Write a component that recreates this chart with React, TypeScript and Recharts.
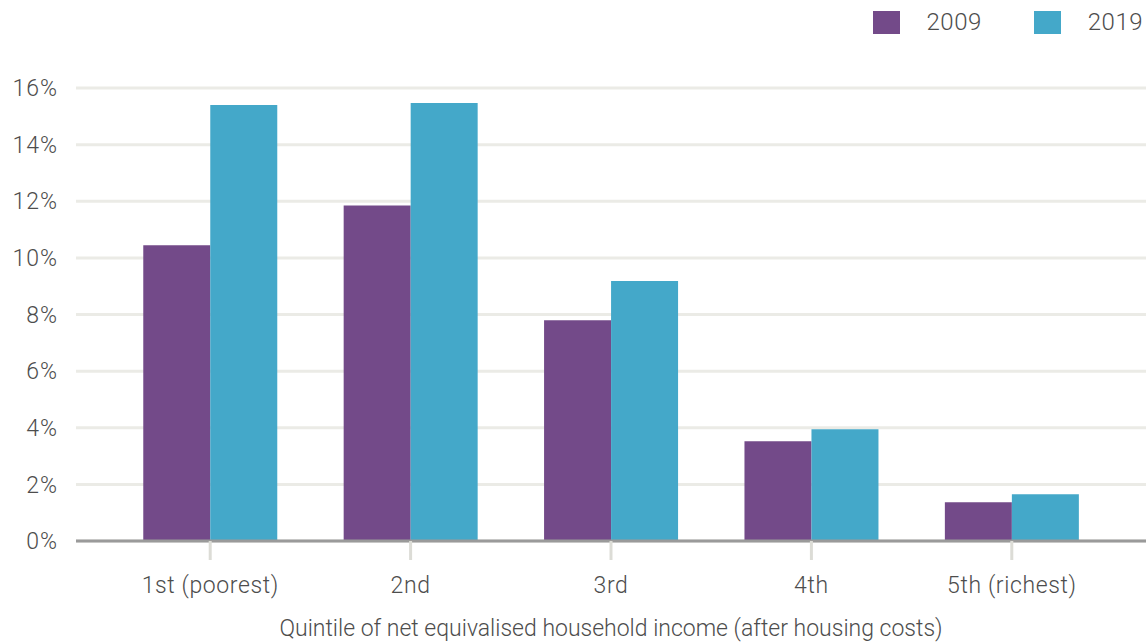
import { BarChart, Bar, XAxis, YAxis, CartesianGrid } from 'recharts'

const quintiles = ['1st (poorest)', '2nd', '3rd', '4th', '5th (richest)']
const share2009 = [10.45, 11.85, 7.8, 3.52, 1.37]
const share2019 = [15.4, 15.47, 9.18, 3.95, 1.65]
const yTicks = [0, 2, 4, 6, 8, 10, 12, 14, 16]

const series = [
  { key: 'y2009', name: '2009', color: '#734a89' },
  { key: 'y2019', name: '2019', color: '#44a8c9' }
]

const data = quintiles.map((q, i) => ({
  quintile: q,
  y2009: share2009[i],
  y2019: share2019[i]
}))

const font = 'Roboto, "Open Sans", sans-serif'
const textStyle = { fill: '#4d4d4d', fontFamily: font, fontWeight: 300 }

function LegendBox() {
  return (
    <div
      style={{
        position: 'absolute',
        top: 11,
        right: 3,
        display: 'flex',
        alignItems: 'center',
        fontFamily: font,
        fontWeight: 300
      }}
    >
      {series.map((s, i) => (
        <div key={s.key} style={{ display: 'flex', alignItems: 'center', marginLeft: i ? 52 : 0 }}>
          <div style={{ width: 27, height: 23, background: s.color }} />
          <span style={{ marginLeft: 27, fontSize: 24, letterSpacing: 0.5, color: '#4d4d4d', lineHeight: '23px' }}>
            {s.name}
          </span>
        </div>
      ))}
    </div>
  )
}

export default function App() {
  return (
    <div style={{ position: 'absolute', left: 0, top: 0, width: 1146, height: 643, background: '#fff' }}>
      <BarChart
        width={1146}
        height={643}
        data={data}
        margin={{ top: 88, right: 0, bottom: 0, left: 0 }}
        barGap={0}
        barCategoryGap="16.6%"
      >
        <CartesianGrid vertical={false} stroke="#ebebe6" strokeWidth={3} />
        <XAxis
          dataKey="quintile"
          padding={{ left: 34, right: 34 }}
          height={102}
          axisLine={{ stroke: '#9a9a9a', strokeWidth: 3 }}
          tickLine={{ stroke: '#dcdcd6', strokeWidth: 3 }}
          tickSize={19}
          tickMargin={17}
          tick={{ ...textStyle, fontSize: 23, letterSpacing: 0.6 }}
          label={{
            value: 'Quintile of net equivalised household income (after housing costs)',
            position: 'insideBottom',
            offset: 7,
            style: { ...textStyle, fontSize: 23 }
          }}
        />
        <YAxis
          width={76}
          domain={[0, 16]}
          ticks={yTicks}
          tickFormatter={(v) => `${v}%`}
          axisLine={false}
          tickLine={false}
          tickSize={0}
          tickMargin={18}
          tick={{ ...textStyle, fontSize: 23, letterSpacing: 1 }}
        />
        {series.map((s) => (
          <Bar key={s.key} dataKey={s.key} name={s.name} fill={s.color} isAnimationActive={false} />
        ))}
      </BarChart>
      <LegendBox />
    </div>
  )
}
